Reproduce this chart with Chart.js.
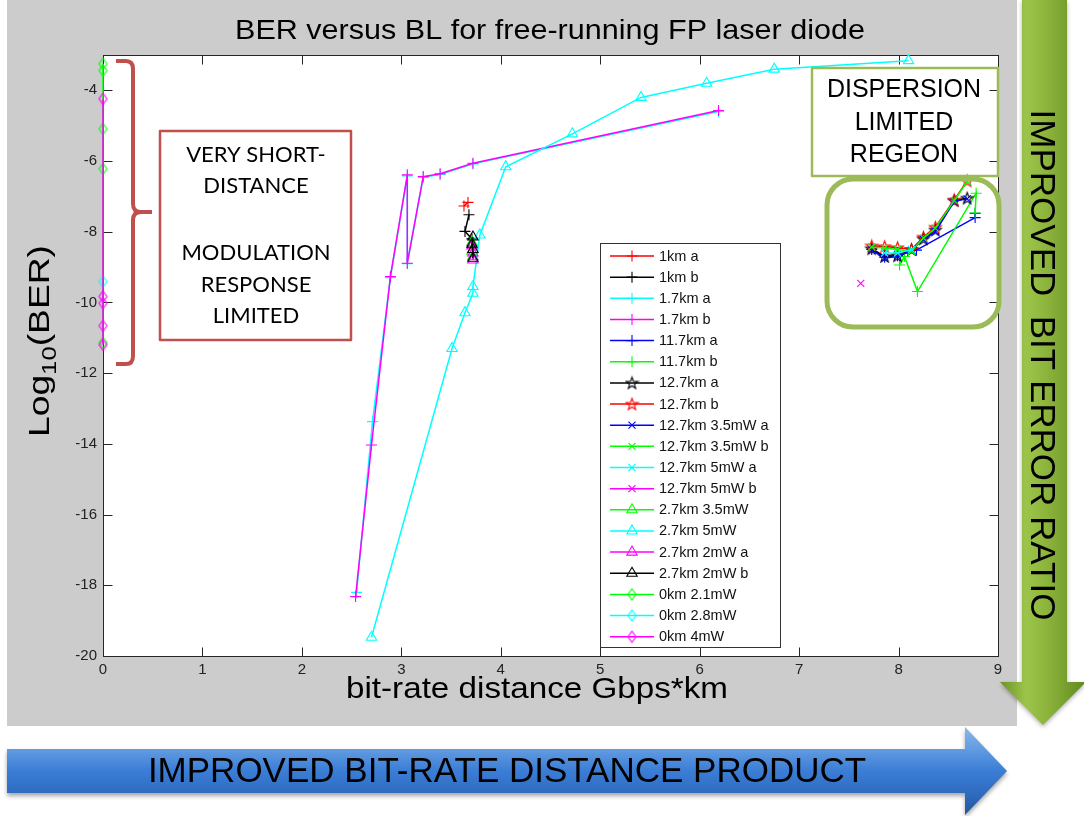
<!DOCTYPE html>
<html>
<head>
<meta charset="utf-8">
<title>BER versus BL</title>
<script src="https://cdn.jsdelivr.net/npm/chart.js@4.4.0/dist/chart.umd.min.js"></script>
<style>
  html, body { margin: 0; padding: 0; background: #fff; }
  #wrap { width: 1084px; height: 816px; }
</style>
</head>
<body>
<div id="wrap"><canvas id="berChart" width="1084" height="816"></canvas></div>
<script>
// BER curves, [bit-rate distance (Gbps*km), log10(BER)]
var km1a      = [[3.63, -7.27], [3.67, -7.17]];
var km1b      = [[3.68, -7.52], [3.64, -7.99], [3.71, -8.2]];
var km17a     = [[2.55, -18.2], [2.71, -13.37], [2.89, -9.3], [3.06, -6.42], [3.06, -8.9], [3.22, -6.46], [3.39, -6.38], [3.72, -6.08], [6.19, -4.6]];
var km17b     = [[2.54, -18.32], [2.70, -14.03], [2.89, -9.27], [3.06, -6.39], [3.06, -8.89], [3.22, -6.44], [3.39, -6.36], [3.72, -6.06], [6.19, -4.57]];
var km117a    = [[7.73, -8.5], [7.86, -8.72], [7.99, -8.68], [8.18, -8.52], [8.77, -7.6], [8.77, -7.48]];
var km117b    = [[8.01, -8.94], [8.06, -8.7], [8.19, -9.69], [8.78, -6.91], [8.77, -7.47]];
var km127a    = [[7.73, -8.48], [7.86, -8.7], [7.99, -8.68], [8.13, -8.5], [8.25, -8.2], [8.37, -7.95], [8.56, -7.12], [8.69, -7.05]];
var km127b    = [[7.73, -8.4], [7.86, -8.42], [7.99, -8.45], [8.13, -8.5], [8.25, -8.15], [8.37, -7.87], [8.56, -7.1], [8.69, -6.56]];
var km127p35a = [[7.73, -8.52], [7.86, -8.74], [7.99, -8.7], [8.13, -8.52], [8.25, -8.22], [8.37, -8.0], [8.56, -7.14], [8.69, -7.07]];
var km127p35b = [[7.73, -8.43], [7.86, -8.46], [7.99, -8.5], [8.13, -8.55], [8.25, -8.18], [8.37, -7.9], [8.56, -7.12], [8.69, -6.58]];
var km127p5a  = [[7.86, -8.6], [7.99, -8.6], [8.13, -8.5]];
var km127p5b  = [[7.62, -9.46]];
var km27p35   = [[3.71, -8.3], [3.71, -8.55], [3.72, -8.7]];
var km27p5    = [[2.70, -19.47], [3.51, -11.30], [3.64, -10.29], [3.72, -9.74], [3.72, -9.55], [3.79, -8.09], [4.05, -6.16], [4.72, -5.23], [5.41, -4.20], [6.07, -3.80], [6.75, -3.40], [8.10, -3.16]];
var km27p2a   = [[3.71, -8.4], [3.72, -8.6], [3.72, -8.8]];
var km27p2b   = [[3.72, -8.15], [3.71, -8.35], [3.72, -8.5], [3.72, -8.75]];
var km0p21    = [[0, -3.25], [0, -3.44], [0, -5.09], [0, -6.22], [0, -11.14]];
var km0p28    = [[0, -9.41]];
var km0p4     = [[0, -4.24], [0, -9.83], [0, -10.02], [0, -10.66], [0, -11.2]];

var seriesNames = ["1km a", "1km b", "1.7km a", "1.7km b", "11.7km a", "11.7km b",
  "12.7km a", "12.7km b", "12.7km 3.5mW a", "12.7km 3.5mW b", "12.7km 5mW a", "12.7km 5mW b",
  "2.7km 3.5mW", "2.7km 5mW", "2.7km 2mW a", "2.7km 2mW b", "0km 2.1mW", "0km 2.8mW", "0km 4mW"];
var seriesPoints = [km1a, km1b, km17a, km17b, km117a, km117b, km127a, km127b, km127p35a, km127p35b,
  km127p5a, km127p5b, km27p35, km27p5, km27p2a, km27p2b, km0p21, km0p28, km0p4];

var xTicksStep = 1, yTicksStep = 2;

// line colours and marker shapes, in legend order
var seriesColors = ['#ff0000', '#000000', '#00ffff', '#ff00ff', '#0000ff', '#00ff00',
  '#000000', '#ff0000', '#0000ff', '#00ff00', '#00ffff', '#ff00ff',
  '#00ff00', '#00ffff', '#ff00ff', '#000000', '#00ff00', '#00ffff', '#ff00ff'];
var seriesMarkers = ['cross', 'cross', 'cross', 'cross', 'cross', 'cross',
  'pentagram', 'pentagram', 'crossRot', 'crossRot', 'crossRot', 'crossRot',
  'triangle', 'triangle', 'triangle', 'triangle', 'diamond', 'diamond', 'diamond'];
var markerRadius = { cross: 5.5, crossRot: 5, triangle: 6, pentagram: 6, diamond: 6 };

var SANS = '"Liberation Sans", Arial, Helvetica, sans-serif';
var NARROW = '"Liberation Sans Narrow", "Arial Narrow", "Liberation Sans", sans-serif';

// pentagram and tall diamond are not built in, so draw them on small canvases
function makeMarker(shape, color) {
  var c = document.createElement('canvas');
  c.width = 15; c.height = 15;
  var g = c.getContext('2d');
  g.strokeStyle = color;
  g.lineWidth = 1.1;
  g.beginPath();
  if (shape === 'diamond') {
    g.moveTo(7.5, 2); g.lineTo(11.5, 7.5); g.lineTo(7.5, 13); g.lineTo(3.5, 7.5);
  } else {
    for (var k = 0; k < 10; k++) {
      var r = k % 2 ? 2.5 : 6.2;
      var a = -Math.PI / 2 + k * Math.PI / 5;
      var px = 7.5 + r * Math.cos(a), py = 8 + r * Math.sin(a);
      if (k) g.lineTo(px, py); else g.moveTo(px, py);
    }
  }
  g.closePath();
  g.stroke();
  return c;
}

var markerImages = seriesMarkers.map(function (m, i) {
  return (m === 'diamond' || m === 'pentagram') ? makeMarker(m, seriesColors[i]) : null;
});

var datasets = seriesNames.map(function (name, i) {
  var m = seriesMarkers[i];
  return {
    label: name,
    data: seriesPoints[i].map(function (p) { return { x: p[0], y: p[1] }; }),
    showLine: true,
    borderColor: seriesColors[i],
    backgroundColor: seriesColors[i],
    borderWidth: 1.5,
    pointStyle: markerImages[i] || m,
    pointRadius: markerRadius[m],
    pointBorderColor: seriesColors[i],
    pointBackgroundColor: 'rgba(0,0,0,0)',
    pointBorderWidth: 1.1,
    clip: false,
    order: seriesNames.length - i   // later series on top
  };
});

function drawMarker(ctx, shape, x, y, color, img) {
  if (img) { ctx.drawImage(img, x - img.width / 2, y - img.height / 2); return; }
  var r = markerRadius[shape];
  ctx.strokeStyle = color;
  ctx.lineWidth = 1.1;
  ctx.beginPath();
  if (shape === 'cross') {
    ctx.moveTo(x - r, y); ctx.lineTo(x + r, y);
    ctx.moveTo(x, y - r); ctx.lineTo(x, y + r);
  } else if (shape === 'crossRot') {
    var d = r * 0.707;
    ctx.moveTo(x - d, y - d); ctx.lineTo(x + d, y + d);
    ctx.moveTo(x - d, y + d); ctx.lineTo(x + d, y - d);
  } else if (shape === 'triangle') {
    ctx.moveTo(x, y - r);
    ctx.lineTo(x + 0.866 * r, y + 0.5 * r);
    ctx.lineTo(x - 0.866 * r, y + 0.5 * r);
    ctx.closePath();
  }
  ctx.stroke();
}

// text squeezed or stretched horizontally to a given width
function stretchedText(ctx, text, cx, cy, font, width) {
  ctx.font = font;
  var w = ctx.measureText(text).width;
  ctx.save();
  ctx.translate(cx, cy);
  ctx.scale(width / w, 1);
  ctx.textAlign = 'center';
  ctx.textBaseline = 'middle';
  ctx.fillText(text, 0, 0);
  ctx.restore();
}

function roundedRect(ctx, x, y, w, h, r) {
  ctx.beginPath();
  ctx.moveTo(x + r, y);
  ctx.arcTo(x + w, y, x + w, y + h, r);
  ctx.arcTo(x + w, y + h, x, y + h, r);
  ctx.arcTo(x, y + h, x, y, r);
  ctx.arcTo(x, y, x + w, y, r);
  ctx.closePath();
}

function textBlock(ctx, lines, cx, ys, font) {
  ctx.font = font;
  ctx.fillStyle = '#000';
  ctx.textAlign = 'center';
  ctx.textBaseline = 'middle';
  lines.forEach(function (t, k) { ctx.fillText(t, cx, ys[k]); });
}

var figurePlugin = {
  id: 'figure',
  beforeDraw: function (chart) {
    var ctx = chart.ctx, a = chart.chartArea;
    ctx.save();
    ctx.fillStyle = '#ffffff';
    ctx.fillRect(0, 0, chart.width, chart.height);
    ctx.fillStyle = '#cccccc';
    ctx.fillRect(7, 0, 1010, 726);
    ctx.fillStyle = '#ffffff';
    ctx.fillRect(a.left, a.top, a.right - a.left, a.bottom - a.top);
    ctx.restore();
  },
  beforeDatasetsDraw: function (chart) {
    // axes box with inward ticks on all four sides
    var ctx = chart.ctx, a = chart.chartArea, xs = chart.scales.x, ys = chart.scales.y;
    var L = Math.round(a.left) + 0.5, R = Math.round(a.right) + 0.5;
    var T = Math.round(a.top) + 0.5, B = Math.round(a.bottom) + 0.5;
    ctx.save();
    ctx.strokeStyle = '#262626';
    ctx.lineWidth = 1;
    ctx.strokeRect(L, T, R - L, B - T);
    ctx.beginPath();
    xs.ticks.forEach(function (t) {
      var px = Math.round(xs.getPixelForValue(t.value)) + 0.5;
      ctx.moveTo(px, B); ctx.lineTo(px, B - 9);
      ctx.moveTo(px, T); ctx.lineTo(px, T + 9);
    });
    ys.ticks.forEach(function (t) {
      var py = Math.round(ys.getPixelForValue(t.value)) + 0.5;
      ctx.moveTo(L, py); ctx.lineTo(L + 9, py);
      ctx.moveTo(R, py); ctx.lineTo(R - 9, py);
    });
    ctx.stroke();
    ctx.restore();
  },
  afterDraw: function (chart) {
    var ctx = chart.ctx;
    ctx.save();
    ctx.fillStyle = '#000';

    // titles
    stretchedText(ctx, 'BER versus BL for free-running FP laser diode', 550, 31, '28px ' + SANS, 630);
    stretchedText(ctx, 'bit-rate distance Gbps*km', 537, 690, '30px ' + SANS, 382);

    // y label with subscript, reading upwards
    ctx.save();
    ctx.translate(49, 341);
    ctx.rotate(-Math.PI / 2);
    ctx.font = '29px ' + SANS;
    var w1 = ctx.measureText('Log').width, w3 = ctx.measureText('(BER)').width;
    ctx.font = '20px ' + SANS;
    var w2 = ctx.measureText('10').width;
    var sx = 192 / (w1 + w2 + w3);
    ctx.scale(sx, 1);
    var x0 = -(w1 + w2 + w3) / 2;
    ctx.textAlign = 'left';
    ctx.textBaseline = 'alphabetic';
    ctx.font = '29px ' + SANS;
    ctx.fillText('Log', x0, 0);
    ctx.fillText('(BER)', x0 + w1 + w2, 0);
    ctx.font = '20px ' + SANS;
    ctx.fillText('10', x0 + w1, 7);
    ctx.restore();

    // legend
    var lx = 600.5, ly = 243.5, lw = 180, lh = 404;
    ctx.fillStyle = '#fff';
    ctx.fillRect(lx, ly, lw, lh);
    ctx.strokeStyle = '#333';
    ctx.lineWidth = 1;
    ctx.strokeRect(lx, ly, lw, lh);
    ctx.font = '14.5px ' + SANS;
    ctx.textAlign = 'left';
    ctx.textBaseline = 'middle';
    chart.data.datasets.forEach(function (ds, i) {
      var y = 256 + i * 21.15;
      ctx.strokeStyle = seriesColors[i];
      ctx.lineWidth = 1.5;
      ctx.beginPath();
      ctx.moveTo(610, y); ctx.lineTo(654, y);
      ctx.stroke();
      drawMarker(ctx, seriesMarkers[i], 632, y, seriesColors[i], markerImages[i]);
      ctx.fillStyle = '#111';
      ctx.fillText(ds.label, 659, y + 0.5);
    });

    // curly bracket beside the x = 0 points
    ctx.strokeStyle = '#c0504d';
    ctx.lineWidth = 4;
    ctx.lineJoin = 'round';
    ctx.beginPath();
    ctx.moveTo(116, 61); ctx.lineTo(126, 61);
    ctx.quadraticCurveTo(133, 61, 133, 69);
    ctx.lineTo(133, 204);
    ctx.quadraticCurveTo(133, 212, 141, 212);
    ctx.lineTo(152, 212);
    ctx.moveTo(141, 212);
    ctx.quadraticCurveTo(133, 212, 133, 220);
    ctx.lineTo(133, 356);
    ctx.quadraticCurveTo(133, 364, 126, 364);
    ctx.lineTo(116, 364);
    ctx.stroke();

    // modulation limited box
    ctx.fillStyle = '#fff';
    ctx.fillRect(160, 131, 191, 209);
    ctx.lineWidth = 2.5;
    ctx.strokeRect(160, 131, 191, 209);
    textBlock(ctx, ['VERY SHORT-', 'DISTANCE', 'MODULATION', 'RESPONSE', 'LIMITED'],
      256, [155, 186, 253, 285, 316], '22px Lato, "Open Sans", sans-serif');

    // dispersion limited box and region outline
    ctx.strokeStyle = '#9bbb59';
    ctx.lineWidth = 2.5;
    ctx.strokeRect(812, 68, 186, 108);
    textBlock(ctx, ['DISPERSION', 'LIMITED', 'REGEON'], 904, [90, 123, 155], '25px ' + SANS);
    ctx.lineWidth = 5;
    roundedRect(ctx, 827, 179, 172, 148, 26);
    ctx.stroke();

    // blue arrow along the bottom
    var gb = ctx.createLinearGradient(0, 727, 0, 815);
    gb.addColorStop(0, '#8ab8ec');
    gb.addColorStop(0.28, '#5d98e0');
    gb.addColorStop(0.5, '#3b7dd6');
    gb.addColorStop(0.75, '#2f6cc0');
    gb.addColorStop(1, '#24569c');
    ctx.save();
    ctx.shadowColor = 'rgba(0,0,0,0.35)';
    ctx.shadowBlur = 4;
    ctx.shadowOffsetY = 3;
    ctx.fillStyle = gb;
    ctx.beginPath();
    ctx.moveTo(7, 749); ctx.lineTo(965, 749); ctx.lineTo(965, 727);
    ctx.lineTo(1007, 771); ctx.lineTo(965, 815); ctx.lineTo(965, 793);
    ctx.lineTo(7, 793); ctx.closePath();
    ctx.fill();
    ctx.restore();
    ctx.fillStyle = '#000';
    ctx.font = '35px ' + SANS;
    ctx.textAlign = 'center';
    ctx.textBaseline = 'middle';
    ctx.fillText('IMPROVED BIT-RATE DISTANCE PRODUCT', 507, 772);

    // green arrow down the right side
    var gg = ctx.createLinearGradient(1000, 0, 1086, 0);
    gg.addColorStop(0, '#6a9226');
    gg.addColorStop(0.3, '#9dc44a');
    gg.addColorStop(0.55, '#8cb43c');
    gg.addColorStop(0.8, '#739c2c');
    gg.addColorStop(1, '#62871f');
    ctx.save();
    ctx.shadowColor = 'rgba(0,0,0,0.3)';
    ctx.shadowBlur = 4;
    ctx.shadowOffsetY = 2;
    ctx.fillStyle = gg;
    ctx.beginPath();
    ctx.moveTo(1022, 0); ctx.lineTo(1067, 0); ctx.lineTo(1067, 682);
    ctx.lineTo(1086, 682); ctx.lineTo(1043, 725); ctx.lineTo(1000, 682);
    ctx.lineTo(1022, 682); ctx.closePath();
    ctx.fill();
    ctx.restore();
    ctx.save();
    ctx.translate(1031, 365);
    ctx.rotate(Math.PI / 2);
    ctx.fillStyle = '#000';
    ctx.font = '35px ' + SANS;
    ctx.textAlign = 'center';
    ctx.textBaseline = 'alphabetic';
    ctx.fillText('IMPROVED  BIT ERROR RATIO', 0, 0);
    ctx.restore();

    ctx.restore();
  }
};

var berChart = new Chart(document.getElementById('berChart'), {
  type: 'scatter',
  data: { datasets: datasets },
  options: {
    responsive: false,
    animation: false,
    events: [],
    layout: { padding: { left: 53, top: 55, right: 86, bottom: 130 } },
    plugins: {
      legend: { display: false },
      tooltip: { enabled: false }
    },
    scales: {
      x: {
        type: 'linear',
        min: 0,
        max: 9,
        grid: { display: false, drawTicks: false },
        border: { display: false },
        ticks: { stepSize: xTicksStep, padding: 5, color: '#222', font: { family: NARROW, size: 15 } },
        afterFit: function (s) { s.height = 30; }
      },
      y: {
        type: 'linear',
        min: -20,
        max: -3,
        grid: { display: false, drawTicks: false },
        border: { display: false },
        ticks: { stepSize: yTicksStep, includeBounds: false, padding: 6, color: '#222', font: { family: NARROW, size: 15 } },
        afterFit: function (s) { s.width = 50; }
      }
    }
  },
  plugins: [figurePlugin]
});
</script>
</body>
</html>
